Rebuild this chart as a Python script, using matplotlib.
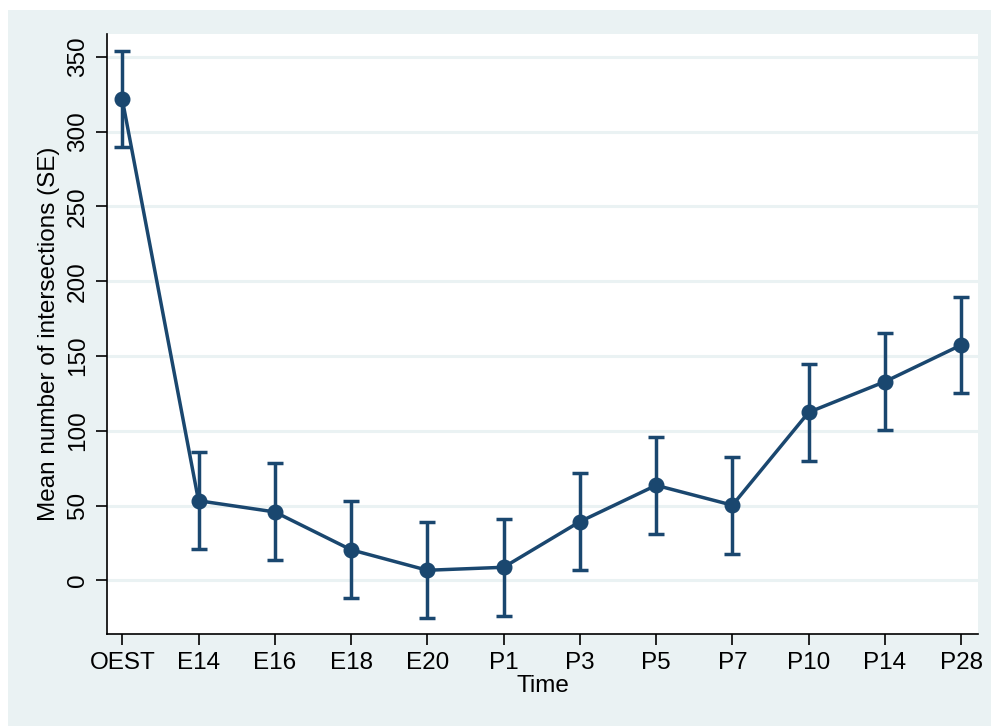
import numpy as np
import matplotlib.pyplot as plt
from matplotlib.patches import Rectangle

# Mean number of intersections by time point, with SE
times = ['OEST', 'E14', 'E16', 'E18', 'E20', 'P1', 'P3', 'P5', 'P7', 'P10', 'P14', 'P28']
means = [321.7, 53.3, 45.8, 20.5, 6.8, 8.8, 39.3, 63.6, 50.3, 112.4, 132.9, 157.4]
se = [32.2, 32.5, 32.4, 32.5, 32.1, 32.5, 32.4, 32.3, 32.4, 32.4, 32.4, 32.3]

navy = '#1A476F'
bg = '#EAF2F3'

plt.rcParams['font.family'] = ['Liberation Sans', 'DejaVu Sans']

fig = plt.figure(figsize=(9.91, 7.26), dpi=100)
fig.patch.set_facecolor('white')
fig.patches.append(Rectangle((8/991, 0), 1, 1 - 10/726, transform=fig.transFigure,
                             facecolor=bg, edgecolor='none', zorder=-10))

ax = fig.add_axes([107/991, 1 - 634/726, (978 - 107)/991, (634 - 34)/726])
ax.set_facecolor('white')

x = np.arange(len(times))
ax.errorbar(x, means, yerr=se, color=navy, lw=2.5, marker='o', markersize=10.5,
            elinewidth=2.5, capsize=5.5, capthick=2.5, zorder=3)

ax.set_xlim(-0.2, 11.22)
ax.set_ylim(-35.8, 365.3)
ax.set_xticks(x)
ax.set_xticklabels(times)
ax.set_yticks(np.arange(0, 351, 50))
ax.yaxis.grid(True, color=bg, lw=2.2)
ax.set_axisbelow(True)

for s in ['top', 'right']:
    ax.spines[s].set_visible(False)
for s in ['left', 'bottom']:
    ax.spines[s].set_linewidth(1.2)

ax.tick_params(axis='both', direction='out', length=8, width=1.2, labelsize=17.5, pad=5)
plt.setp(ax.get_yticklabels(), rotation=90, va='center')

ax.set_xlabel('Time', fontsize=17.5, labelpad=1)
ax.set_ylabel('Mean number of intersections (SE)', fontsize=17.5, labelpad=5)

fig.savefig('out.png', dpi=100)
